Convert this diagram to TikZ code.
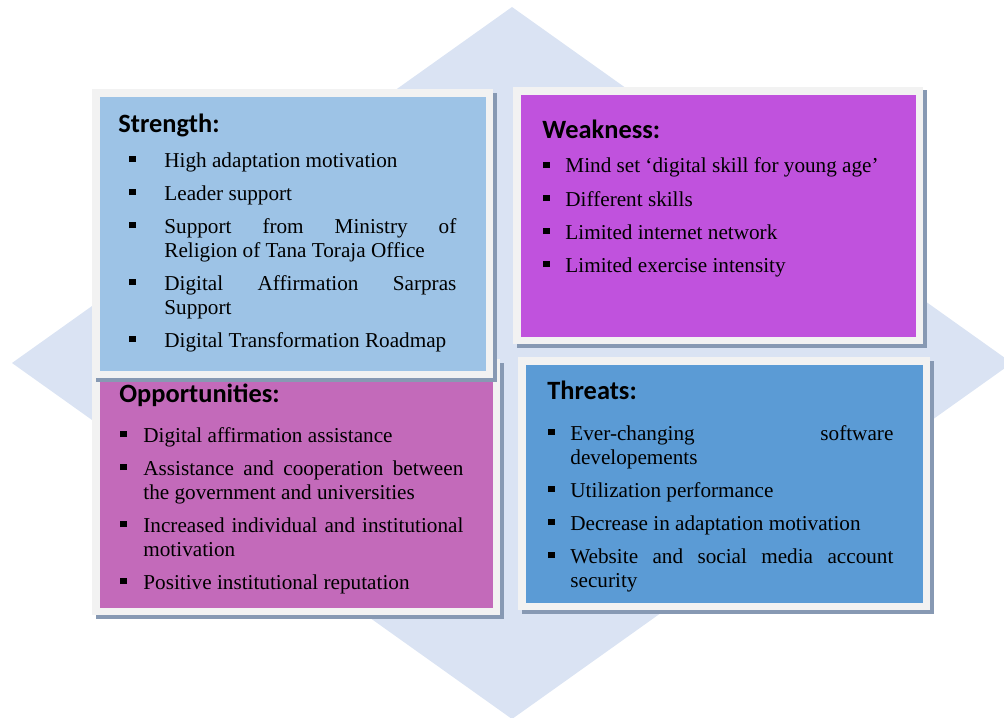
\documentclass[tikz,border=0pt]{standalone}
\usepackage{fontspec}
\setmainfont{Liberation Serif}
\newfontfamily\headfont{Carlito}
\definecolor{swotdiamond}{HTML}{DAE3F3}
\definecolor{swotframe}{HTML}{F2F2F2}
\definecolor{swotshadow}{HTML}{8799B3}
\definecolor{strengthblue}{HTML}{9DC3E6}
\definecolor{weaknesspurple}{HTML}{C052DD}
\definecolor{opportunitypink}{HTML}{C36ABA}
\definecolor{threatblue}{HTML}{5B9BD5}

% square bullet with a hanging indent
\newlength{\bulletgap}
\newcommand{\swotitem}[1]{\par\hangindent=\bulletgap\hangafter=1\noindent
  \makebox[\bulletgap][l]{\rule[2.45pt]{3.1pt}{3.1pt}}\strut#1\par}

% framed box: shadow, light frame, coloured panel
\newcommand{\swotbox}[5]{%
  \fill[swotshadow] (#1+3.5,#2+3.5) rectangle (#3+3.5,#4+3.5);
  \fill[swotframe] (#1,#2) rectangle (#3,#4);
  \fill[#5] (#1+7.5,#2+7.5) rectangle (#3-7.5,#4-7.5);}

\begin{document}
\begin{tikzpicture}[x=0.5pt, y=-0.5pt,
    head/.style={anchor=base west, inner sep=0pt, font=\headfont\bfseries\fontsize{13.2}{15}\selectfont},
    items/.style={anchor=base west, inner sep=0pt, text width=#1, align=justify, font=\fontsize{10.6}{12}\selectfont}
  ]
  \useasboundingbox (0,0) rectangle (1004,717);

  % background diamond
  \fill[swotdiamond] (512,7) -- (1012,363) -- (512,719) -- (12,363) -- cycle;

  \swotbox{513}{87}{923}{344}{weaknesspurple}
  \swotbox{518}{357}{930}{610}{threatblue}
  \swotbox{92}{359}{500}{615}{opportunitypink}
  \swotbox{92}{89}{493}{378}{strengthblue}

  % strength
  \node[head] (S-head) at (118,132) {Strength:};
  \node[items=163.5pt] (S-list) at (129,134) {\setlength{\bulletgap}{17.5pt}\setlength{\parskip}{4.5pt}%
    \swotitem{High adaptation motivation}
    \swotitem{Leader support}
    \swotitem{Support\hfill from\hfill Ministry\hfill of\\Religion of Tana Toraja Office}
    \swotitem{Digital\hfill Affirmation\hfill Sarpras\\Support}
    \swotitem{Digital Transformation Roadmap}};

  % weakness
  \node[head] (W-head) at (542,138) {Weakness:};
  \node[items=185pt] (W-list) at (543,140) {\setlength{\bulletgap}{11pt}\setlength{\parskip}{4.5pt}%
    \swotitem{Mind set ‘digital skill for young age’}
    \swotitem{Different skills}
    \swotitem{Limited internet network}
    \swotitem{Limited exercise intensity}};

  % opportunities
  \node[head] (O-head) at (119,402) {Opportunities:};
  \node[items=171.5pt] (O-list) at (120,409) {\setlength{\bulletgap}{11.5pt}\setlength{\parskip}{4.5pt}%
    \swotitem{Digital affirmation assistance}
    \swotitem{Assistance\hfill and\hfill cooperation\hfill between\\the government and universities}
    \swotitem{Increased\hfill individual\hfill and\hfill institutional\\motivation}
    \swotitem{Positive institutional reputation}};

  % threats
  \node[head] (T-head) at (547,399) {Threats:};
  \node[items=172.5pt] (T-list) at (548,407) {\setlength{\bulletgap}{11pt}\setlength{\parskip}{4.5pt}%
    \swotitem{Ever-changing\hfill software\\developements}
    \swotitem{Utilization performance}
    \swotitem{Decrease in adaptation motivation}
    \swotitem{Website\hfill and\hfill social\hfill media\hfill account\\security}};
\end{tikzpicture}
\end{document}
